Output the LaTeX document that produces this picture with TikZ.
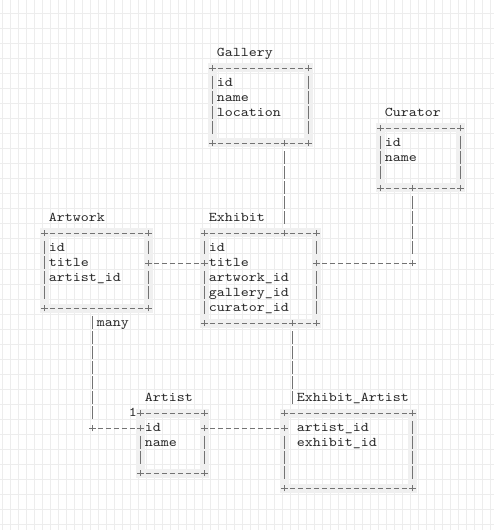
\documentclass[tikz,border=0pt]{standalone}
\usepackage{tikz}
\usepackage{graphicx}

\newcommand{\mono}[1]{\scalebox{1.1429}[1]{#1}}
\newcommand{\plus}[1]{\draw[glyph] ([xshift=-2.5pt]#1.center) -- ([xshift=2.5pt]#1.center)
  ([yshift=-2.5pt]#1.center) -- ([yshift=2.5pt]#1.center);}
\newcommand{\tableframe}[5]{%
  \draw[band] (#2,#3) rectangle (#4,#5);
  \node (#1_nw) [cell] at (#2,#3) {};
  \node (#1_ne) [cell] at (#4,#3) {};
  \node (#1_sw) [cell] at (#2,#5) {};
  \node (#1_se) [cell] at (#4,#5) {};
  \draw[hline] (#1_nw) -- (#1_ne);
  \draw[hline] (#1_sw) -- (#1_se);
  \draw[vline] (#1_nw) -- (#1_sw);
  \draw[vline] (#1_ne) -- (#1_se);
  \plus{#1_nw}\plus{#1_ne}\plus{#1_sw}\plus{#1_se}}

\begin{document}
\begin{tikzpicture}[
		x=6pt, y=-11.25pt, shift={(3.375pt,-6pt)},
		gridline/.style={draw=black!7, line width=0.75pt},
		band/.style={draw=black!6, line width=6.75pt},
		glyph/.style={draw=black!55, line width=0.6pt},
		hline/.style={glyph, dash pattern=on 4.125pt off 1.875pt, dash phase=5.0625pt},
		vline/.style={glyph, dash pattern=on 9.375pt off 1.875pt, dash phase=10.6875pt},
		cell/.style={minimum width=6pt, minimum height=11.25pt, inner sep=0pt, outer sep=0pt},
		joint/.style={cell, fill=black!6},
		txt/.style={anchor=base west, inner sep=0pt, xshift=-3pt, yshift=-2.625pt, text=black!85,
			font=\ttfamily\fontsize{10pt}{11.25pt}\selectfont}
	]
  \useasboundingbox (-0.5625,-0.5333) rectangle (61.1875,34.8);
  \fill[white] (-0.5625,-0.5333) rectangle (61.1875,34.8);
  \foreach \k in {0,...,61} \draw[gridline] (\k-0.225,-0.5333) -- (\k-0.225,34.8);
  \foreach \k in {0,...,34} \draw[gridline] (-0.5625,\k+0.4) -- (61.1875,\k+0.4);

  \tableframe{ga}{26}{4}{38}{9}
  \tableframe{cu}{47}{8}{57}{12}
  \tableframe{aw}{5}{15}{18}{20}
  \tableframe{ex}{25}{15}{39}{21}
  \tableframe{ar}{17}{27}{25}{31}
  \tableframe{ea}{35}{27}{51}{32}

  \node (ga_s) [cell] at (35,9) {};
  \node (cu_s) [cell] at (51,12) {};
  \node (aw_e) [joint] at (18,17) {};
  \node (ex_n) [cell] at (35,15) {};
  \node (ex_w) [joint] at (25,17) {};
  \node (ex_e) [joint] at (39,17) {};
  \node (ex_s) [cell] at (36,21) {};
  \node (ar_w) [joint] at (17,28) {};
  \node (ar_e) [joint] at (25,28) {};
  \node (ea_w) [joint] at (35,28) {};
  \node (cu_bend) [cell] at (51,17) {};
  \node (aw_bend) [cell] at (11,28) {};
  \coordinate (aw_many) at (11,20.5);
  \coordinate (ea_top) at (36,26.5);
  \foreach \n in {ga_s, cu_s, aw_e, ex_n, ex_w, ex_e, ex_s, ar_w, ar_e, ea_w, cu_bend, aw_bend} {\plus{\n}}

  \node (ga_title) [txt] at (27,3) {\mono{Gallery}};
  \foreach \f [count=\i] in {id, name, location} {\node (ga_f\i) [txt] at (27,4+\i) {\mono{\f}};}
  \node (cu_title) [txt] at (48,7) {\mono{Curator}};
  \foreach \f [count=\i] in {id, name} {\node (cu_f\i) [txt] at (48,8+\i) {\mono{\f}};}
  \node (aw_title) [txt] at (6,14) {\mono{Artwork}};
  \foreach \f [count=\i] in {id, title, artist\_id} {\node (aw_f\i) [txt] at (6,15+\i) {\mono{\f}};}
  \node (ex_title) [txt] at (26,14) {\mono{Exhibit}};
  \foreach \f [count=\i] in {id, title, artwork\_id, gallery\_id, curator\_id} {\node (ex_f\i) [txt] at (26,15+\i) {\mono{\f}};}
  \node (ar_title) [txt] at (18,26) {\mono{Artist}};
  \foreach \f [count=\i] in {id, name} {\node (ar_f\i) [txt] at (18,27+\i) {\mono{\f}};}
  \node (ea_title) [txt] at (37,26) {\mono{Exhibit\_Artist}};
  \foreach \f [count=\i] in {artist\_id, exhibit\_id} {\node (ea_f\i) [txt] at (37,27+\i) {\mono{\f}};}
  \node (many) [txt] at (12,21) {\mono{many}};
  \node (one) [txt] at (16,27) {\mono{1}};

  \draw[vline] (ga_s) -- (ex_n);
  \draw[vline] (cu_s) -- (cu_bend);
  \draw[hline] (ex_e) -- (cu_bend);
  \draw[hline] (aw_e) -- (ex_w);
  \draw[vline] (aw_many) -- (aw_bend);
  \draw[hline] (aw_bend) -- (ar_w);
  \draw[vline] (ex_s) -- (ea_top);
  \draw[hline] (ar_e) -- (ea_w);
\end{tikzpicture}
\end{document}
